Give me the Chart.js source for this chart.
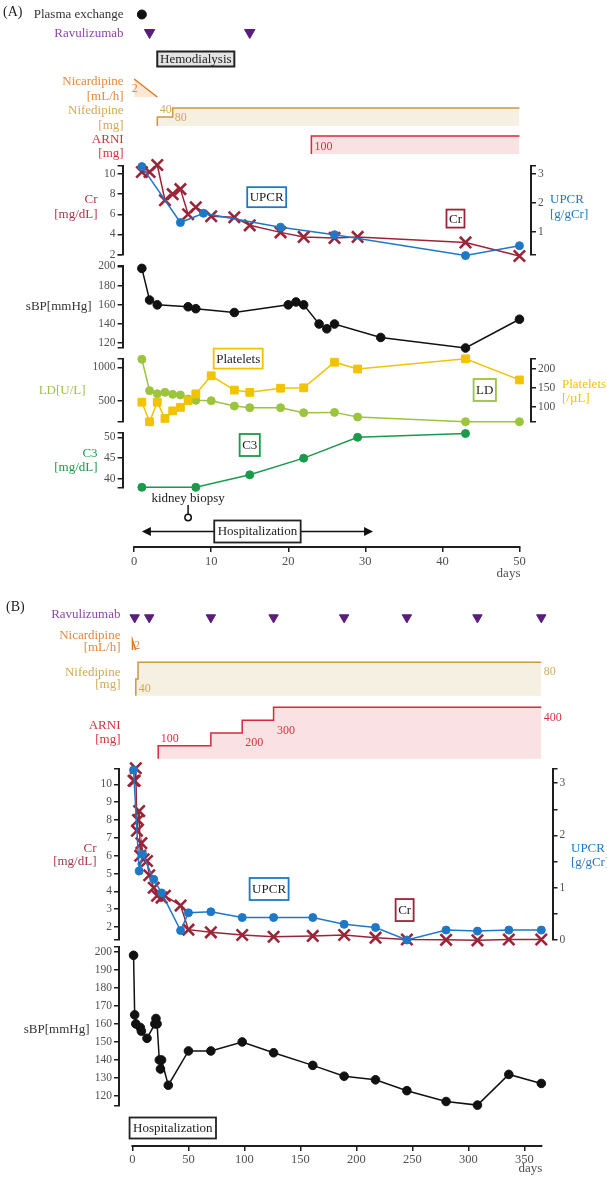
<!DOCTYPE html>
<html>
<head>
<meta charset="utf-8">
<title>Clinical course</title>
<script src="https://cdn.jsdelivr.net/npm/chart.js@4.4.1/dist/chart.umd.min.js"></script>
<style>
  body { margin: 0; background: #fff; }
  #page { position: relative; width: 607px; height: 1180px; overflow: hidden; font-family: "Liberation Serif", serif; }
  .panel { position: absolute; left: 0; width: 607px; }
  #boxA { top: 0; height: 590px; }
  #boxB { top: 585px; height: 595px; }
  .tag { position: absolute; font-size: 14px; color: #222; line-height: 16px; }
</style>
</head>
<body>
<div id="page">
  <div class="panel" id="boxA"><canvas id="chartA"></canvas></div>
  <div class="panel" id="boxB"><canvas id="chartB"></canvas></div>
  <div class="tag" style="left:3px;top:4px">(A)</div>
  <div class="tag" style="left:6px;top:599px">(B)</div>
</div>
<script>
// ---- Panel A: first 50 days ----
const plasmaDaysA = [1];
const ravDaysA = [2, 15];
const hdDaysA = [3, 13];
const nicDays = [0, 3];
const nicRate = [2, 0];
const nifDays = [3, 5];
const nifDose = [40, 80];
const arniDaysA = [23];
const arniDoseA = [100];
const endA = 50;

const crDaysA = [1, 2, 3, 4, 5, 6, 7, 8, 10, 13, 15, 19, 22, 26, 29, 43, 50];
const crA = [10.2, 10.2, 10.9, 7.4, 8.0, 8.5, 6.0, 6.7, 5.8, 5.7, 4.9, 4.2, 3.75, 3.65, 3.75, 3.2, 1.85];
const upcrDaysA = [1, 6, 9, 19, 26, 43, 50];
const upcrA = [3.25, 1.32, 1.64, 1.16, 0.9, 0.18, 0.52];
const sbpDaysA = [1, 2, 3, 7, 8, 13, 20, 21, 22, 24, 25, 26, 32, 43, 50];
const sbpA = [198, 165, 160, 158, 156, 152, 160, 163, 160, 140, 135, 140, 126, 115, 145];
const labDaysA = [1, 2, 3, 4, 5, 6, 7, 8, 10, 13, 15, 19, 22, 26, 29, 43, 50];
const ldA = [1120, 650, 605, 625, 595, 585, 525, 505, 500, 420, 395, 395, 320, 325, 255, 185, 185];
const pltA = [112, 60, 112, 69, 89, 98, 116, 134, 182, 144, 138, 149, 150, 218, 200, 227, 171];
const c3DaysA = [1, 8, 15, 22, 29, 43];
const c3A = [38, 38, 41, 45, 50, 50.9];
const biopsyDay = 7;
const hospDays = [1, 31];

// ---- Panel B: one year ----
const ravDaysB = [2, 15, 70, 126, 189, 245, 308, 365];
const arniDaysB = [23, 70, 98, 126];
const arniDoseB = [100, 200, 300, 400];
const endB = 365;
const crDaysB = [1, 2, 3, 4, 5, 6, 7, 8, 10, 13, 15, 19, 22, 26, 29, 43, 50, 70, 98, 126, 161, 189, 217, 245, 280, 308, 336, 365];
const crB = [10.2, 10.2, 10.9, 7.4, 8.0, 8.5, 6.0, 6.7, 5.8, 5.7, 4.9, 4.2, 3.75, 3.65, 3.75, 3.2, 1.85, 1.7, 1.55, 1.45, 1.5, 1.55, 1.4, 1.3, 1.28, 1.25, 1.3, 1.3];
const upcrDaysB = [1, 6, 9, 19, 26, 43, 50, 70, 98, 126, 161, 189, 217, 245, 280, 308, 336, 365];
const upcrB = [3.25, 1.32, 1.64, 1.16, 0.9, 0.18, 0.52, 0.54, 0.43, 0.43, 0.43, 0.3, 0.24, 0, 0.19, 0.17, 0.19, 0.19];
const sbpDaysB = [1, 2, 3, 7, 8, 13, 20, 21, 22, 24, 25, 26, 32, 50, 70, 98, 126, 161, 189, 217, 245, 280, 308, 336, 365];
const sbpB = [198, 165, 160, 158, 156, 152, 160, 163, 160, 140, 135, 140, 126, 145, 145, 150, 144, 137, 131, 129, 123, 117, 115, 132, 127];

const xTicksA = [0, 10, 20, 30, 40, 50];
const xTicksB = [0, 50, 100, 150, 200, 250, 300, 350];

const FONT = '"Liberation Serif", "Times New Roman", serif';
const AXIS = '#1e1e1e';
const TICK = '#505050';
const AXW = 30;
const C = {
  rav: '#5a1d7d', ravTxt: '#8c48aa',
  nic: '#e07a26', nicFill: '#fce6d4', nicTxt: '#e5893f',
  nif: '#c99a3f', nifFill: '#f6f0e3', nifTxt: '#d3a955',
  arni: '#d8283c', arniFill: '#f9e1e4', arniTxt: '#d9303f',
  cr: '#9b2438', crTxt: '#a8384c',
  upcr: '#1f78c6',
  ld: '#9cc43c',
  plt: '#f2c300',
  c3: '#1b9a4c'
};
Chart.defaults.font.family = FONT;

const pts = (xs, ys) => xs.map((x, i) => ({x, y: ys[i]}));
const row = xs => xs.map(x => ({x, y: 0.5}));
// dose steps: rise from 0 on the first day, hold each dose until the next change
function steps(days, doses, end) {
  const out = [{x: days[0], y: 0}];
  days.forEach((d, i) => {
    out.push({x: d, y: doses[i]});
    out.push({x: i + 1 < days.length ? days[i + 1] : end, y: doses[i]});
  });
  return out;
}

function ds(yAxisID, data, color, extra) {
  return Object.assign({
    yAxisID, data, borderColor: color, backgroundColor: color, borderWidth: 1.5,
    pointRadius: 4, pointBorderWidth: 1, pointBackgroundColor: color, pointBorderColor: color,
    tension: 0, clip: false
  }, extra);
}

function yAxis(r, pos, order) {
  const labels = r.labels || [];
  const marks = [...new Set(labels.concat(r.minor || [], r.caps ? [r.min, r.max] : []))];
  return {
    type: 'linear', position: pos, stack: pos === 'left' ? 'L' : 'R',
    stackWeight: r.h, weight: order,
    min: r.min === undefined ? 0 : r.min,
    max: r.max === undefined ? 1 : r.max,
    display: !!r.show,
    border: {display: true, color: AXIS, width: 2},
    grid: {drawOnChartArea: false, drawTicks: true, tickLength: 5, color: AXIS, lineWidth: 1.5},
    ticks: {autoSkip: false, padding: 2, color: TICK, font: {size: 11.5},
      callback: v => labels.includes(v) ? String(v) : ''},
    afterBuildTicks: s => { s.ticks = marks.map(v => ({value: v})); },
    afterFit: s => { s.width = AXW; s.paddingTop = 0; s.paddingBottom = 0; }
  };
}

function xAxis(min, max, ticks, height, pad) {
  return {
    type: 'linear', position: 'bottom', min, max,
    border: {display: false},
    grid: {drawOnChartArea: false, drawTicks: true, tickLength: 5, color: AXIS, lineWidth: 1.5},
    ticks: {autoSkip: false, maxRotation: 0, padding: pad, color: TICK, font: {size: 12.5},
      callback: v => String(v)},
    afterBuildTicks: s => { s.ticks = ticks.map(v => ({value: v})); },
    afterFit: s => { s.height = height; s.paddingLeft = 0; s.paddingRight = 0; }
  };
}

// every row gets a left axis and a (mostly hidden) right axis so both stacks line up
function buildScales(rows, x) {
  const scales = {x};
  rows.forEach((r, i) => {
    scales[r.id] = yAxis(r, 'left', rows.length - i);
    const rr = r.right ? Object.assign({h: r.h}, r.right) : {id: r.id + '_r', h: r.h};
    scales[rr.id] = yAxis(rr, 'right', i);
  });
  return scales;
}

function txt(ctx, s, x, y, align, color, size) {
  ctx.font = size + 'px ' + FONT;
  ctx.fillStyle = color;
  ctx.textAlign = align;
  ctx.textBaseline = 'middle';
  ctx.fillText(s, x, y);
}

function box(ctx, s, x, cy, w, h, stroke, fill, lw) {
  ctx.fillStyle = fill;
  ctx.fillRect(x, cy - h / 2, w, h);
  ctx.lineWidth = lw;
  ctx.strokeStyle = stroke;
  ctx.strokeRect(x, cy - h / 2, w, h);
  txt(ctx, s, x + w / 2, cy + 0.5, 'center', '#222', 13);
}

const decor = {
  id: 'decor',
  afterDraw(chart, args, o) {
    const {ctx, chartArea: ca, scales} = chart;
    const X = v => scales.x.getPixelForValue(v);
    const mid = id => (scales[id].top + scales[id].bottom) / 2;
    ctx.save();

    // time axis only from day 0 to the last day
    ctx.strokeStyle = AXIS;
    ctx.lineWidth = 2;
    ctx.beginPath();
    ctx.moveTo(X(0) - 1, ca.bottom);
    ctx.lineTo(X(o.end) + 1, ca.bottom);
    ctx.stroke();
    txt(ctx, 'days', X(o.end) + 1, ca.bottom + o.daysDy, 'right', TICK, 13);

    // row titles
    o.titles.forEach(t => {
      const right = t.side === 'right';
      const lh = t.lh || 14.5;
      const x = right ? ca.right + t.dx : ca.left - t.dx;
      const y0 = mid(t.axis) + (t.dy || 0) - (t.lines.length - 1) * lh / 2;
      t.lines.forEach((s, k) => txt(ctx, s, x, y0 + k * lh, right ? 'left' : 'right', t.color, 13));
    });

    // dose numbers beside the step lines
    o.doses.forEach(d => {
      const s = scales[d.axis];
      txt(ctx, String(d.y), X(d.x) + d.dx, s.getPixelForValue(d.y) + d.dy, 'left', d.color, 12);
    });

    // hemodialysis period
    if (o.hd) {
      const x1 = X(o.hd.from), x2 = X(o.hd.to);
      box(ctx, o.hd.text, x1, mid(o.hd.axis), x2 - x1, 15, '#222', '#e4e4e4', 2);
    }

    // kidney biopsy marker
    if (o.biopsy) {
      const x = X(o.biopsy.day), y = mid(o.biopsy.axis);
      txt(ctx, o.biopsy.text, x, y - 3, 'center', '#222', 13);
      ctx.strokeStyle = '#111';
      ctx.lineWidth = 1.5;
      ctx.beginPath();
      ctx.moveTo(x, y + 3);
      ctx.lineTo(x, y + 12);
      ctx.stroke();
      ctx.fillStyle = '#fff';
      ctx.beginPath();
      ctx.arc(x, y + 15.5, 3.2, 0, Math.PI * 2);
      ctx.fill();
      ctx.stroke();
    }

    // hospitalization
    if (o.hosp) {
      const h = o.hosp, y = mid(h.axis);
      ctx.font = '13px ' + FONT;
      const w = ctx.measureText(h.text).width + 7;
      if (h.arrow) {
        const x1 = X(h.from), x2 = X(h.to);
        ctx.strokeStyle = '#111';
        ctx.fillStyle = '#111';
        ctx.lineWidth = 1.5;
        ctx.beginPath();
        ctx.moveTo(x1 + 5, y);
        ctx.lineTo(x2 - 5, y);
        ctx.stroke();
        [[x1, 1], [x2, -1]].forEach(([xt, dir]) => {
          ctx.beginPath();
          ctx.moveTo(xt, y);
          ctx.lineTo(xt + dir * 9, y - 4.5);
          ctx.lineTo(xt + dir * 9, y + 4.5);
          ctx.closePath();
          ctx.fill();
        });
        box(ctx, h.text, X((h.from + h.to) / 2) - w / 2, y, w, 22, '#222', '#fff', 1.8);
      } else {
        box(ctx, h.text, X(h.from) - 4, y, w, 21, '#222', '#fff', 1.8);
      }
    }

    // series name tags
    o.tags.forEach(t => {
      ctx.font = '13px ' + FONT;
      const w = ctx.measureText(t.text).width + 5;
      box(ctx, t.text, X(t.x) - w / 2, scales[t.axis].getPixelForValue(t.y), w, t.h || 20, t.color, '#fff', 1.8);
    });
    ctx.restore();
  }
};

// ---------------- Chart A ----------------
const rowsA = [
  {id: 'yPe', h: 19},
  {id: 'yRav', h: 17},
  {id: 'yHd', h: 36},
  {id: 'yNic', h: 23, min: -0.333, max: 2.222},
  {id: 'yNif', h: 29, min: -13.3, max: 115.6},
  {id: 'yArni', h: 29, min: -22.2, max: 138.9},
  {id: 'gA1', h: 8},
  {id: 'yCr', h: 89, min: 1.95, max: 10.8, show: true, labels: [2, 4, 6, 8, 10], caps: true,
    right: {id: 'yUpcr', min: 0.2, max: 3.27, show: true, labels: [1, 2, 3], caps: true}},
  {id: 'gA2', h: 11},
  {id: 'ySbp', h: 82, min: 115, max: 200.5, show: true, labels: [120, 140, 160, 180, 200], caps: true},
  {id: 'gA3', h: 11},
  {id: 'yLd', h: 63, min: 181, max: 1124, show: true, labels: [500, 1000], caps: true,
    right: {id: 'yPlt', min: 59.4, max: 226.5, show: true, labels: [100, 150, 200], caps: true}},
  {id: 'gA4', h: 11},
  {id: 'yC3', h: 55, min: 37.84, max: 51.03, show: true, labels: [40, 45, 50], caps: true},
  {id: 'yBx', h: 28},
  {id: 'yHosp', h: 31}
];

new Chart(document.getElementById('chartA'), {
  type: 'line',
  data: {
    datasets: [
      ds('yPe', row(plasmaDaysA), '#111', {showLine: false, pointRadius: 4.5}),
      ds('yRav', row(ravDaysA), C.rav, {showLine: false, pointStyle: 'triangle', pointRotation: 180, pointRadius: 6}),
      ds('yUpcr', pts(upcrDaysA, upcrA), C.upcr, {pointRadius: 4}),
      ds('yCr', pts(crDaysA, crA), C.cr, {pointStyle: 'crossRot', pointRadius: 8, pointBorderWidth: 2.6}),
      ds('ySbp', pts(sbpDaysA, sbpA), '#111', {pointRadius: 4.3}),
      ds('yPlt', pts(labDaysA, pltA), C.plt, {pointStyle: 'rect', pointRadius: 5.5}),
      ds('yLd', pts(labDaysA, ldA), C.ld, {pointRadius: 4}),
      ds('yC3', pts(c3DaysA, c3A), C.c3, {pointRadius: 4}),
      ds('yNic', pts(nicDays, nicRate), C.nic, {pointRadius: 0, fill: 'origin', backgroundColor: C.nicFill}),
      ds('yNif', steps(nifDays, nifDose, endA), C.nif, {pointRadius: 0, fill: 'origin', backgroundColor: C.nifFill}),
      ds('yArni', steps(arniDaysA, arniDoseA, endA), C.arni, {pointRadius: 0, fill: 'origin', backgroundColor: C.arniFill})
    ]
  },
  options: {
    responsive: true,
    maintainAspectRatio: false,
    animation: false,
    layout: {autoPadding: false, padding: {left: 92.6, right: 46, top: 5, bottom: 5}},
    scales: buildScales(rowsA, xAxis(-1.5, 51.5, xTicksA, 38, 2.5)),
    plugins: {
      legend: {display: false},
      tooltip: {enabled: false},
      decor: {
        end: endA, daysDy: 27,
        titles: [
          {axis: 'yPe', lines: ['Plasma exchange'], color: '#333', dx: -1},
          {axis: 'yRav', lines: ['Ravulizumab'], color: C.ravTxt, dx: -1, dy: 1},
          {axis: 'yNic', lines: ['Nicardipine', '[mL/h]'], color: C.nicTxt, dx: -1, dy: 0.5},
          {axis: 'yNif', lines: ['Nifedipine', '[mg]'], color: C.nifTxt, dx: -1, dy: 3.5},
          {axis: 'yArni', lines: ['ARNI', '[mg]'], color: C.arniTxt, dx: -1, dy: 3},
          {axis: 'yCr', lines: ['Cr', '[mg/dL]'], color: C.crTxt, dx: 25, dy: -3.5},
          {axis: 'yUpcr', side: 'right', lines: ['UPCR', '[g/gCr]'], color: C.upcr, dx: 19, dy: -3.5},
          {axis: 'ySbp', lines: ['sBP[mmHg]'], color: '#333', dx: 31},
          {axis: 'yLd', lines: ['LD[U/L]'], color: C.ld, dx: 37},
          {axis: 'yPlt', side: 'right', lines: ['Platelets', '[/µL]'], color: C.plt, dx: 31, dy: 1},
          {axis: 'yC3', lines: ['C3', '[mg/dL]'], color: C.c3, dx: 25}
        ],
        doses: [
          {axis: 'yNic', x: nicDays[0], y: nicRate[0], dx: -2.5, dy: 10, color: C.nicTxt},
          {axis: 'yNif', x: nifDays[0], y: nifDose[0], dx: 2.5, dy: -7, color: C.nifTxt},
          {axis: 'yNif', x: nifDays[1], y: nifDose[1], dx: 2, dy: 10, color: C.nifTxt},
          {axis: 'yArni', x: arniDaysA[0], y: arniDoseA[0], dx: 3, dy: 11, color: C.arniTxt}
        ],
        hd: {axis: 'yHd', from: hdDaysA[0], to: hdDaysA[1], text: 'Hemodialysis'},
        biopsy: {axis: 'yBx', day: biopsyDay, text: 'kidney biopsy'},
        hosp: {axis: 'yHosp', from: hospDays[0], to: hospDays[1], text: 'Hospitalization', arrow: true},
        tags: [
          {axis: 'yCr', x: 17.2, y: 7.7, text: 'UPCR', color: C.upcr},
          {axis: 'yCr', x: 41.7, y: 5.57, text: 'Cr', color: C.cr, h: 18},
          {axis: 'yLd', x: 13.5, y: 1130, text: 'Platelets', color: C.plt},
          {axis: 'yLd', x: 45.5, y: 660, text: 'LD', color: C.ld, h: 22},
          {axis: 'yC3', x: 15, y: 48.15, text: 'C3', color: C.c3, h: 22}
        ]
      }
    }
  },
  plugins: [decor]
});

// ---------------- Chart B ----------------
const rowsB = [
  {id: 'yRav', h: 21},
  {id: 'yNic', h: 27, min: -1, max: 4.4},
  {id: 'yNif', h: 45, min: -10.3, max: 97.5},
  {id: 'yArni', h: 62, min: -25.7, max: 456.8},
  {id: 'gB1', h: 7},
  {id: 'yCr', h: 171, min: 1.27, max: 10.86, show: true, labels: [2, 3, 4, 5, 6, 7, 8, 9, 10], caps: true,
    right: {id: 'yUpcr', min: 0, max: 3.27, show: true, labels: [0, 1, 2, 3], minor: [0.5, 1.5, 2.5], caps: true}},
  {id: 'gB2', h: 7},
  {id: 'ySbp', h: 159, min: 114.5, max: 202.6, show: true, labels: [120, 130, 140, 150, 160, 170, 180, 190, 200], caps: true},
  {id: 'gB3', h: 4},
  {id: 'yHosp', h: 36}
];

new Chart(document.getElementById('chartB'), {
  type: 'line',
  data: {
    datasets: [
      ds('yRav', row(ravDaysB), C.rav, {showLine: false, pointStyle: 'triangle', pointRotation: 180, pointRadius: 5.4}),
      ds('yUpcr', pts(upcrDaysB, upcrB), C.upcr, {pointRadius: 4}),
      ds('yCr', pts(crDaysB, crB), C.cr, {pointStyle: 'crossRot', pointRadius: 8, pointBorderWidth: 2.6}),
      ds('ySbp', pts(sbpDaysB, sbpB), '#111', {pointRadius: 4.3}),
      ds('yNic', [{x: nicDays[0], y: 0}].concat(pts(nicDays, nicRate)), C.nic, {pointRadius: 0, fill: 'origin', backgroundColor: C.nicFill}),
      ds('yNif', steps(nifDays, nifDose, endB), C.nif, {pointRadius: 0, fill: 'origin', backgroundColor: C.nifFill}),
      ds('yArni', steps(arniDaysB, arniDoseB, endB), C.arni, {pointRadius: 0, fill: 'origin', backgroundColor: C.arniFill})
    ]
  },
  options: {
    responsive: true,
    maintainAspectRatio: false,
    animation: false,
    layout: {autoPadding: false, padding: {left: 89, right: 24.5, top: 22, bottom: 4}},
    scales: buildScales(rowsB, xAxis(-12, 375, xTicksB, 30, 1)),
    plugins: {
      legend: {display: false},
      tooltip: {enabled: false},
      decor: {
        end: endB, daysDy: 23,
        titles: [
          {axis: 'yRav', lines: ['Ravulizumab'], color: C.ravTxt, dx: -1.5, dy: -2.5},
          {axis: 'yNic', lines: ['Nicardipine', '[mL/h]'], color: C.nicTxt, dx: -1.5, dy: 0.5, lh: 12},
          {axis: 'yNif', lines: ['Nifedipine', '[mg]'], color: C.nifTxt, dx: -1.5, dy: 1.5, lh: 12},
          {axis: 'yArni', lines: ['ARNI', '[mg]'], color: C.arniTxt, dx: -1.5, dy: 2, lh: 14},
          {axis: 'yCr', lines: ['Cr', '[mg/dL]'], color: C.crTxt, dx: 22.5, dy: 0.5, lh: 13.5},
          {axis: 'yUpcr', side: 'right', lines: ['UPCR', '[g/gCr]'], color: C.upcr, dx: 18.5, dy: 1, lh: 14},
          {axis: 'ySbp', lines: ['sBP[mmHg]'], color: '#333', dx: 29.5, dy: 3}
        ],
        doses: [
          {axis: 'yNic', x: nicDays[0], y: nicRate[0], dx: 1.5, dy: 5.5, color: C.nicTxt},
          {axis: 'yNif', x: nifDays[0], y: nifDose[0], dx: 3, dy: 10, color: C.nifTxt},
          {axis: 'yNif', x: endB, y: nifDose[1], dx: 2.5, dy: 10, color: C.nifTxt},
          {axis: 'yArni', x: arniDaysB[0], y: arniDoseB[0], dx: 2.5, dy: -6.7, color: C.arniTxt},
          {axis: 'yArni', x: arniDaysB[2], y: arniDoseB[1], dx: 3, dy: 10.3, color: C.arniTxt},
          {axis: 'yArni', x: arniDaysB[3], y: arniDoseB[2], dx: 3.5, dy: 10.7, color: C.arniTxt},
          {axis: 'yArni', x: endB, y: arniDoseB[3], dx: 2.5, dy: 10.4, color: C.arniTxt}
        ],
        hosp: {axis: 'yHosp', from: hospDays[0], text: 'Hospitalization', arrow: false},
        tags: [
          {axis: 'yCr', x: 122, y: 4.13, text: 'UPCR', color: C.upcr, h: 22},
          {axis: 'yCr', x: 243, y: 2.95, text: 'Cr', color: C.cr, h: 22}
        ]
      }
    }
  },
  plugins: [decor]
});
</script>
</body>
</html>
